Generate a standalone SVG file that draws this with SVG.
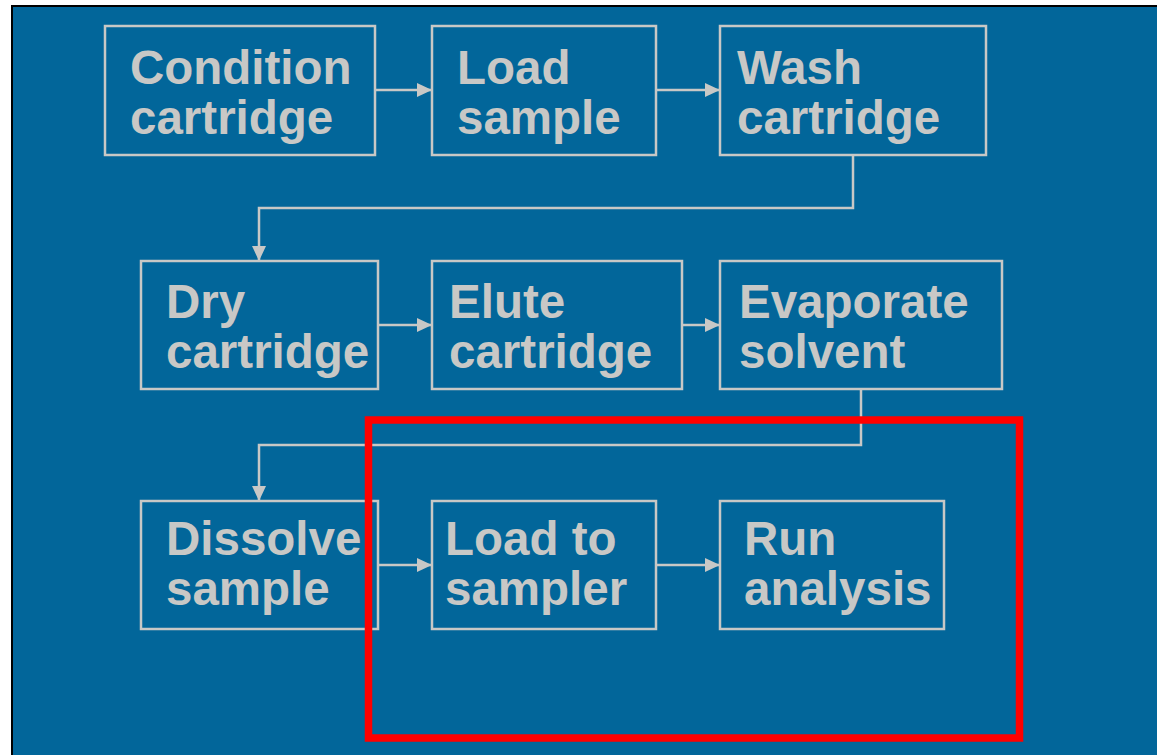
<svg xmlns="http://www.w3.org/2000/svg" width="1157" height="755" viewBox="0 0 1157 755">
<defs>
<marker id="ah" markerWidth="15" markerHeight="14" refX="15" refY="7" orient="auto" markerUnits="userSpaceOnUse">
<path d="M0,0 L15,7 L0,14 Z" fill="#C8C8C6"/>
</marker>
<style>
.box{fill:none;stroke:#C8C8C6;stroke-width:2.5}
.t{font-family:"Liberation Sans",Arial,sans-serif;font-weight:bold;font-size:47.5px;fill:#C8C8C6}
.c{fill:none;stroke:#C8C8C6;stroke-width:2.5}
</style>
</defs>
<rect x="0" y="0" width="1157" height="755" fill="#FFFFFF"/>
<rect x="12" y="6" width="1150" height="755" fill="#02669A" stroke="#000000" stroke-width="2"/>
<g id="connectors">
<path class="c" d="M375,90 H432" marker-end="url(#ah)"/>
<path class="c" d="M656,90 H720" marker-end="url(#ah)"/>
<path class="c" d="M853,155 V208 H259 V261" marker-end="url(#ah)"/>
<path class="c" d="M378,325 H432" marker-end="url(#ah)"/>
<path class="c" d="M682,325 H720" marker-end="url(#ah)"/>
<path class="c" d="M861,389 V445 H259 V501" marker-end="url(#ah)"/>
<path class="c" d="M378,565 H432" marker-end="url(#ah)"/>
<path class="c" d="M656,565 H720" marker-end="url(#ah)"/>
</g>
<g id="n1"><rect class="box" x="105" y="26" width="270" height="129"/><text class="t" x="130" y="84">Condition</text><text class="t" x="130" y="134">cartridge</text></g>
<g id="n2"><rect class="box" x="432" y="26" width="224" height="129"/><text class="t" x="457" y="84">Load</text><text class="t" x="457" y="134">sample</text></g>
<g id="n3"><rect class="box" x="720" y="26" width="266" height="129"/><text class="t" x="737" y="84">Wash</text><text class="t" x="737" y="134">cartridge</text></g>
<g id="n4"><rect class="box" x="141" y="261" width="237" height="128"/><text class="t" x="166" y="318">Dry</text><text class="t" x="166" y="368">cartridge</text></g>
<g id="n5"><rect class="box" x="432" y="261" width="250" height="128"/><text class="t" x="449" y="318">Elute</text><text class="t" x="449" y="368">cartridge</text></g>
<g id="n6"><rect class="box" x="720" y="261" width="282" height="128"/><text class="t" x="739" y="318">Evaporate</text><text class="t" x="739" y="368">solvent</text></g>
<g id="n7"><rect class="box" x="141" y="501" width="237" height="128"/><text class="t" x="166" y="555">Dissolve</text><text class="t" x="166" y="605">sample</text></g>
<g id="n8"><rect class="box" x="432" y="501" width="224" height="128"/><text class="t" x="445" y="555">Load to</text><text class="t" x="445" y="605">sampler</text></g>
<g id="n9"><rect class="box" x="720" y="501" width="224" height="128"/><text class="t" x="744" y="555">Run</text><text class="t" x="744" y="605">analysis</text></g>
<rect id="highlight" x="368.5" y="420" width="651" height="318" fill="none" stroke="#FF0000" stroke-width="7.5"/>
</svg>
